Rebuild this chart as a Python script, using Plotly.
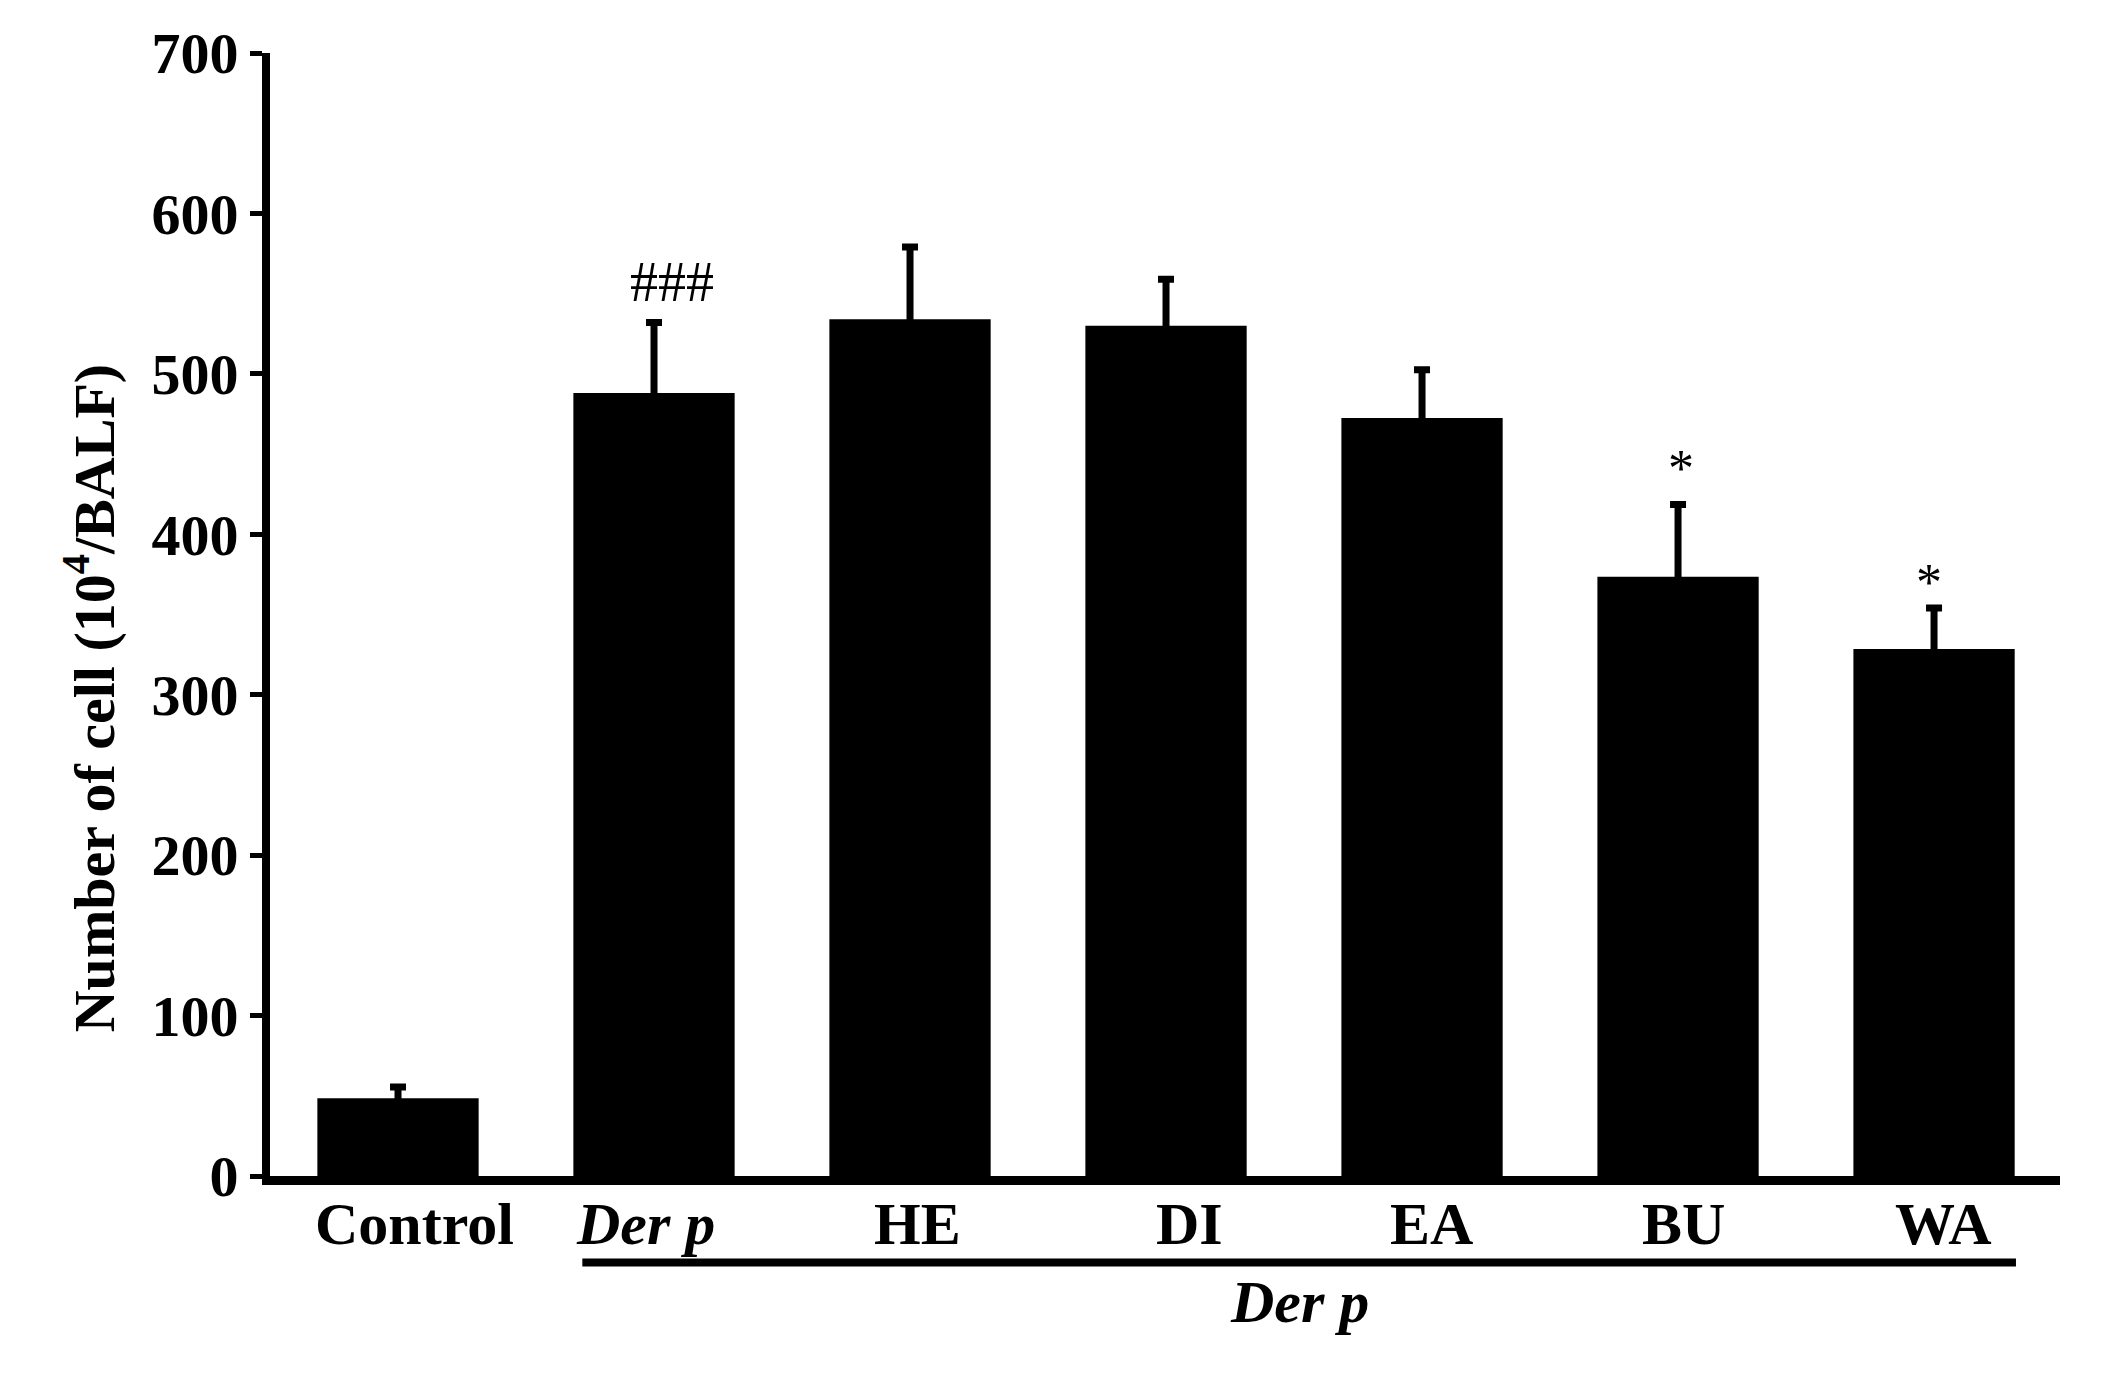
import plotly.graph_objects as go

categories = ["Control", "Der p", "HE", "DI", "EA", "BU", "WA"]
tick_text = ["<b>Control</b>", "<b><i>Der p</i></b>", "<b>HE</b>", "<b>DI</b>",
             "<b>EA</b>", "<b>BU</b>", "<b>WA</b>"]
label_shift_px = [16, -9, 7, 23, 9, 5, 9]
values = [48.5, 488, 534, 530, 472.5, 373.5, 328.5]
errors = [7, 44, 45, 29, 30, 45, 25.5]
sig_labels = ["###", "*", "*"]
sig_x = [1.07, 5.01, 5.98]
sig_y = [557, 441, 370]
y_ticks = [0, 100, 200, 300, 400, 500, 600, 700]

FONT = "Liberation Serif"
x_pos = list(range(len(categories)))

fig = go.Figure()
fig.add_trace(go.Bar(
    x=x_pos, y=values, width=0.63,
    marker=dict(color="black", line=dict(width=0)),
    error_y=dict(type="data", symmetric=False, array=errors,
                 arrayminus=[6] * len(errors), color="black",
                 thickness=7, width=8),
    showlegend=False,
))

for lab, xx, yy in zip(sig_labels, sig_x, sig_y):
    fig.add_annotation(x=xx, y=yy, xref="x", yref="y", text=lab,
                       showarrow=False, yanchor="middle",
                       font=dict(family=FONT, size=56 if lab.startswith("#") else 52,
                                 color="black"))

# category labels
for xx, lab, sh in zip(x_pos, tick_text, label_shift_px):
    fig.add_annotation(x=xx, y=-0.043, xref="x", yref="paper", text=lab,
                       showarrow=False, yanchor="middle", xshift=sh,
                       font=dict(family=FONT, size=60, color="black"))

# group bracket line under Der p treatments
fig.add_shape(type="line", xref="x", yref="paper", x0=0.72, x1=6.32,
              y0=-0.077, y1=-0.077, line=dict(color="black", width=8))
fig.add_annotation(x=3.52, y=-0.112, xref="x", yref="paper",
                   text="<b><i>Der p</i></b>", showarrow=False, yanchor="middle",
                   font=dict(family=FONT, size=60, color="black"))

# y-axis title
fig.add_annotation(x=-0.101, y=0.4256, xref="paper", yref="paper",
                   text="<b>Number of cell (10<sup>4</sup>/BALF)</b>", textangle=-90,
                   showarrow=False, xanchor="center", yanchor="middle",
                   font=dict(family=FONT, size=58, color="black"))

fig.update_layout(
    width=2102, height=1379,
    margin=dict(l=262, r=50, t=45, b=211),
    paper_bgcolor="white", plot_bgcolor="white",
    font=dict(family=FONT, color="black"),
)
fig.update_xaxes(
    range=[-0.5, 6.492], tickmode="array", tickvals=x_pos, showticklabels=False,
    showline=True, linecolor="black", linewidth=9, ticks="", showgrid=False,
    zeroline=False,
)
fig.update_yaxes(
    range=[0, 700], tickmode="array", tickvals=y_ticks,
    showline=True, linecolor="black", linewidth=8, ticks="outside",
    ticklen=12, tickwidth=5, tickcolor="black", showgrid=False, zeroline=False,
    tickfont=dict(family=FONT, size=58, color="black", weight="bold"),
)

fig.write_html("out.html")
